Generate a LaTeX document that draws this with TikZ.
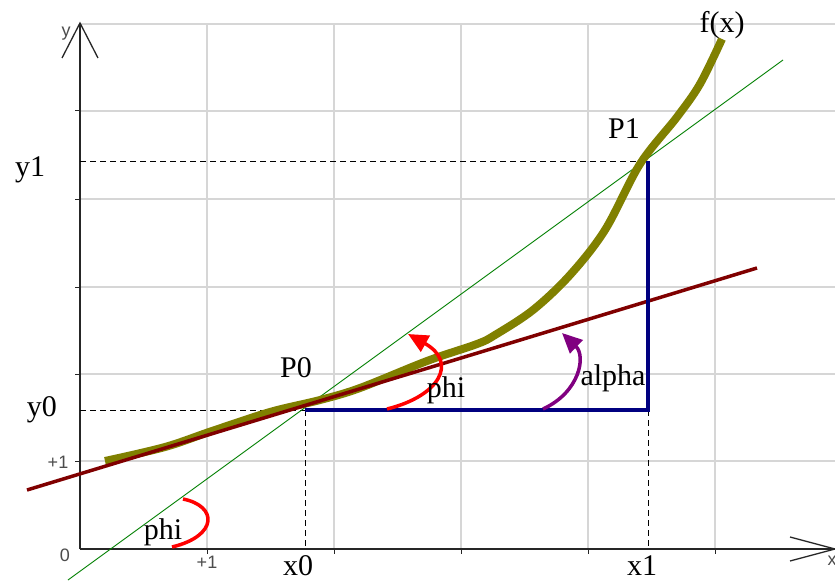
\documentclass[tikz,border=0pt]{standalone}
\usepackage{fontspec}
\setmainfont{Liberation Serif}
\newfontfamily\axfont{Liberation Sans}
\usetikzlibrary{arrows.meta}
\definecolor{olivec}{HTML}{808000}
\definecolor{tanred}{HTML}{800000}
\definecolor{navyc}{HTML}{000080}
\definecolor{purplec}{HTML}{800080}
\definecolor{gridc}{HTML}{D6D6D6}
\definecolor{greenc}{HTML}{008000}
\definecolor{redc}{HTML}{FF0000}
\begin{document}
\begin{tikzpicture}[x=1pt,y=-1pt,
  lbl/.style={font=\fontsize{30}{32}\selectfont, inner sep=0pt},
  axlbl/.style={font=\axfont\fontsize{18}{20}\selectfont, text=black!70, inner sep=0pt},
  gridline/.style={draw=gridc, line width=1.3pt},
  axisline/.style={draw=black!85, line width=1.3pt},
  tickline/.style={draw=black!85, line width=1pt},
  dashline/.style={draw=black, dash pattern=on 6pt off 4pt, line width=0.9pt},
  secant/.style={draw=greenc, line width=0.9pt},
  tangent/.style={draw=tanred, line width=3.5pt},
  fcurve/.style={draw=olivec, line width=8pt},
  triangleline/.style={draw=navyc, line width=3.5pt},
  anglearc/.style={line width=3.5pt},
  arrowtip/.style={-{Triangle[length=20pt,width=18pt]}}
]
\useasboundingbox (0,0) rectangle (835,583);
\fill[white] (0,0) rectangle (835,583);

% grid
\foreach \gx in {207,334,461,588,715} \draw[gridline] (\gx,24) -- (\gx,549);
\foreach \gy in {24,111,199,287,374,461} \draw[gridline] (80,\gy) -- (835,\gy);

% key points
\coordinate (O) at (80,549);
\coordinate (P0) at (305,410);
\coordinate (B1) at (648,161);
\coordinate (C) at (648,410);
\coordinate (Y0) at (80,410);
\coordinate (Y1) at (80,161);
\coordinate (X0) at (305,549);
\coordinate (X1) at (648,549);
\coordinate (Ytop) at (80,23);
\coordinate (Xend) at (835,549);

% axes
\draw[axisline] (O) -- (Ytop);
\draw[axisline] (62,58) -- (Ytop) -- (98,58);
\draw[axisline] (O) -- (Xend);
\draw[axisline] (790,537) -- (Xend) -- (790,561);
\foreach \gx in {207,334,461,588,715} \draw[tickline] (\gx,549) -- (\gx,554);
\foreach \gy in {111,199,287,374,461} \draw[tickline] (75,\gy) -- (80,\gy);

\node[axlbl] (ylab) at (66,34) {y};
\node[axlbl] (xlab) at (832,561) {x};
\node[axlbl] (orig) at (65,555) {0};
\node[axlbl] (xone) at (207,562) {+1};
\node[axlbl] (yone) at (58,462) {+1};

% dashed guides
\draw[dashline] (Y0) -- (P0);
\draw[dashline] (Y1) -- (B1);
\draw[dashline] (P0) -- (X0);
\draw[dashline] (C) -- (X1);

% secant and tangent
\coordinate (S1) at (68,580);
\coordinate (S2) at (783,60);
\draw[secant] (S1) -- (S2);
\coordinate (T1) at (27,490);
\coordinate (T2) at (757,268);

% curve f(x)
\draw[fcurve] plot[smooth, tension=0.55] coordinates {(105,461) (165,447) (212,431) (270,412) (320,400) (360,388) (427,361) (477,344) (495,335) (533,310) (570,275) (605,230) (640,164) (677,117) (700,84) (722,39)};

\draw[tangent] (T1) -- (T2);

% triangle
\draw[triangleline] (P0) -- (C) -- (B1);

% angle arcs
\draw[anglearc, draw=redc, arrowtip] (387,409) .. controls (440,396) and (458,362) .. (408,334);
\draw[anglearc, draw=purplec, arrowtip] (543,409) .. controls (580,392) and (586,356) .. (562,333);
\draw[anglearc, draw=redc] (172,547) .. controls (218,536) and (218,506) .. (183,499);

% labels
\node[lbl] (ly1) at (30,170) {y1};
\node[lbl] (ly0) at (42,410) {y0};
\node[lbl] (lp0) at (296,368) {P0};
\node[lbl] (lp1) at (624,129) {P1};
\node[lbl] (lf) at (722,25) {f(x)};
\node[lbl] (lx0) at (298,566) {x0};
\node[lbl] (lx1) at (642,566) {x1};
\node[lbl] (lphi) at (446,390) {phi};
\node[lbl] (lalpha) at (613,378) {alpha};
\node[lbl] (lphib) at (163,532) {phi};
\end{tikzpicture}
\end{document}
